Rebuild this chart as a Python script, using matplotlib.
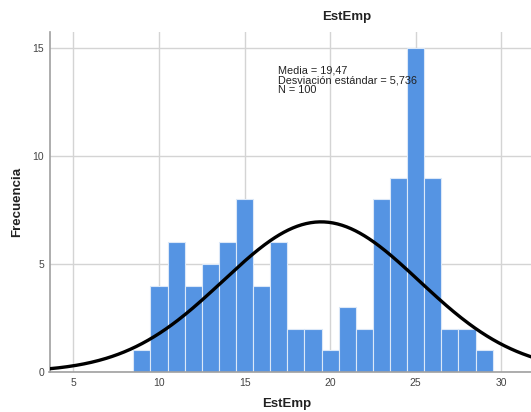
import numpy as np
import matplotlib.pyplot as plt

plt.rcParams['font.family'] = ['Liberation Sans', 'DejaVu Sans']

# bin centres (width 1) and counts
valores = [9, 10, 11, 12, 13, 14, 15, 16, 17, 18, 19, 20, 21, 22, 23, 24, 25, 26, 27, 28, 29]
frecuencias = [1, 4, 6, 4, 5, 6, 8, 4, 6, 2, 2, 1, 3, 2, 8, 9, 15, 9, 2, 2, 1]
media = 19.47
desv = 5.736
n = 100
xticks = [5, 10, 15, 20, 25, 30]
yticks = [0, 5, 10, 15]

fig = plt.figure(figsize=(5.31, 4.12), dpi=100)
# axes run past the right edge (the original was cropped)
ax = fig.add_axes([49.5 / 531, 40 / 412, (645 - 49.5) / 531, 340 / 412])

ax.bar(valores, frecuencias, width=1.0, color='#5594E3', edgecolor='#dbe8f8',
       linewidth=0.8, zorder=2)

x = np.linspace(3.6, 38.4, 400)
curva = n * 1.0 * np.exp(-0.5 * ((x - media) / desv) ** 2) / (desv * np.sqrt(2 * np.pi))
ax.plot(x, curva, color='black', linewidth=2.4, zorder=3)

ax.set_xlim(3.6, 38.4)
ax.set_ylim(0, 15.75)
ax.set_xticks(xticks)
ax.set_yticks(yticks)
ax.grid(True, color='#d4d4d4', linewidth=1.0, zorder=0)
ax.set_axisbelow(True)
ax.tick_params(length=0, labelsize=7.5, colors='#444444', pad=4)
for s in ['top', 'right']:
    ax.spines[s].set_visible(False)
for s in ['left', 'bottom']:
    ax.spines[s].set_color('#a0a0a0')
    ax.spines[s].set_linewidth(1.2)

ax.text(16.95, 14.2, 'Media = 19,47\nDesviación estándar = 5,736\nN = 100',
        fontsize=7.8, color='#222222', va='top', ha='left', linespacing=1.0)

fig.text(347 / 531, 1 - 17 / 412, 'EstEmp', ha='center', va='center',
         fontsize=9.5, fontweight='bold', color='#222222')
fig.text(287 / 531, 1 - 404 / 412, 'EstEmp', ha='center', va='center',
         fontsize=9.5, fontweight='bold', color='#222222')
fig.text(17 / 531, 1 - 202 / 412, 'Frecuencia', ha='center', va='center',
         rotation=90, fontsize=9.5, fontweight='bold', color='#222222')

fig.savefig('out.png', dpi=100)
